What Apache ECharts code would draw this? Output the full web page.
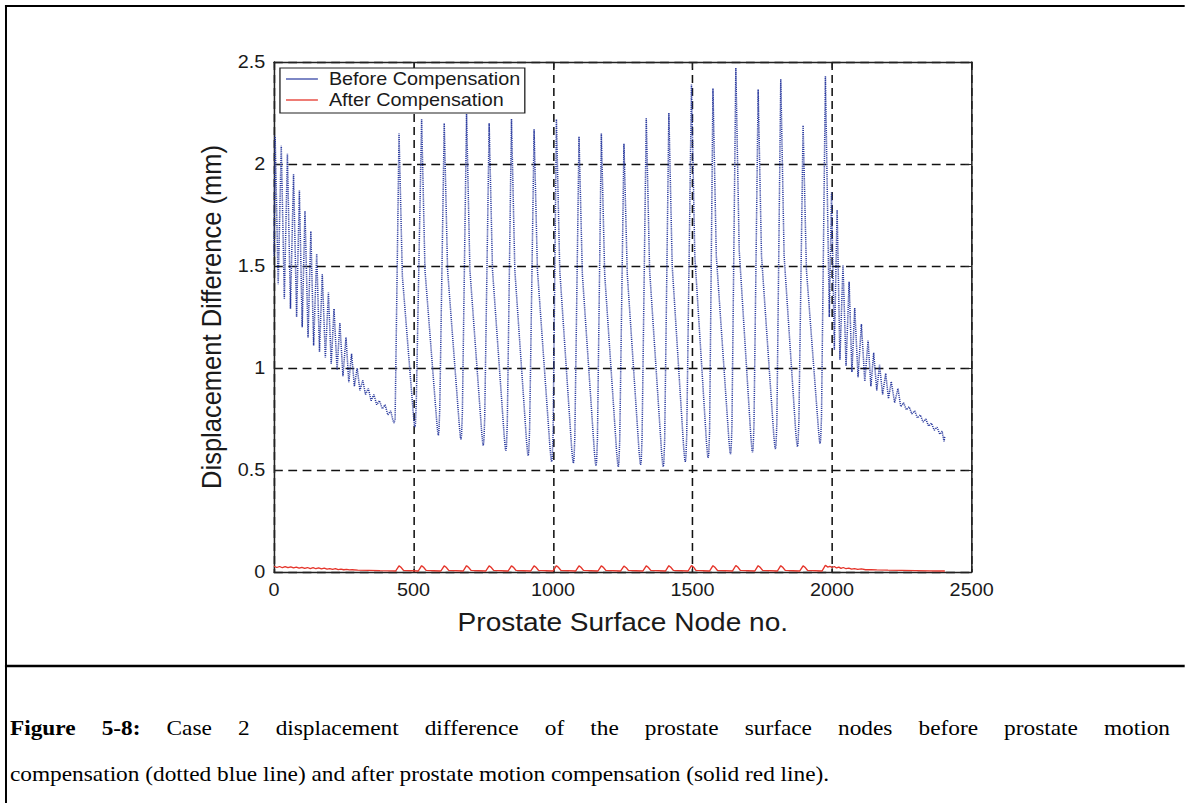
<!DOCTYPE html>
<html>
<head>
<meta charset="utf-8">
<script src="https://cdn.jsdelivr.net/npm/echarts@6/dist/echarts.min.js"></script>
<style>
  html, body { margin: 0; padding: 0; background: #fff; overflow: hidden; }
  /* figure is laid out narrow and widened horizontally, like the printed page */
  #chart { width: 1077.27px; height: 803px; transform: scaleX(1.1); transform-origin: 0 0; }
</style>
</head>
<body>
<div id="chart"></div>
<script>
// ---- data: [surface node no., displacement difference (mm)] ----
// before compensation, nodes 0-430 (fast decaying oscillation)
const beforeLeft = [
  [0,1.55],[4,2.14],[15,1.41],[26,2.09],[37,1.34],[48,2.05],[59,1.29],[70,1.95],[81,1.25],
  [91,1.87],[101,1.20],[111,1.77],[122,1.15],[132,1.67],[142,1.11],[153,1.56],[163,1.08],
  [173,1.46],[184,1.05],[195,1.37],[205,1.02],[215,1.29],[226,0.99],[236,1.22],[247,0.96],
  [258,1.15],[268,0.93],[278,1.07],[288,0.91],[298,1.00],[308,0.89],[318,0.94],[328,0.87],
  [338,0.90],[348,0.84],[358,0.87],[368,0.82],[378,0.84],[388,0.80],[398,0.82],[408,0.77],
  [418,0.79],[426,0.745],[430,0.73],[434,0.75]
];
// before compensation, nodes 434-1976 (large periodic waves)
const beforeWaves = [
  [448,2.15],[460,1.45],[499,0.78],[503,0.72],[505,0.71],[507,0.73],[510,0.84],
  [529,2.22],[541,1.48],[583,0.74],[587,0.68],[589,0.67],[591,0.69],[594,0.80],
  [610,2.20],[622,1.48],[664,0.72],[668,0.66],[670,0.65],[672,0.67],[675,0.78],
  [690,2.245],[702,1.48],[744,0.69],[748,0.63],[750,0.62],[752,0.64],[755,0.75],
  [771,2.20],[783,1.48],[825,0.665],[829,0.605],[831,0.595],[833,0.615],[836,0.73],
  [851,2.22],[863,1.48],[905,0.64],[909,0.58],[911,0.57],[913,0.59],[916,0.70],
  [932,2.17],[944,1.48],[989,0.61],[993,0.55],[995,0.54],[997,0.56],[1000,0.67],
  [1012,2.22],[1024,1.48],[1067,0.60],[1071,0.543],[1073,0.533],[1075,0.553],[1078,0.66],
  [1093,2.135],[1105,1.46],[1148,0.59],[1152,0.53],[1154,0.52],[1156,0.54],[1159,0.65],
  [1173,2.15],[1185,1.46],[1228,0.585],[1232,0.526],[1234,0.516],[1236,0.536],[1239,0.65],
  [1254,2.10],[1266,1.46],[1308,0.595],[1312,0.535],[1314,0.525],[1316,0.545],[1319,0.66],
  [1334,2.225],[1346,1.48],[1389,0.585],[1393,0.526],[1395,0.516],[1397,0.536],[1400,0.65],
  [1415,2.25],[1427,1.50],[1468,0.61],[1472,0.55],[1474,0.54],[1476,0.56],[1479,0.67],
  [1496,2.39],[1508,1.55],[1550,0.63],[1554,0.57],[1556,0.56],[1558,0.58],[1561,0.69],
  [1573,2.37],[1585,1.55],[1630,0.65],[1634,0.588],[1636,0.578],[1638,0.598],[1641,0.71],
  [1655,2.47],[1667,1.58],[1709,0.66],[1713,0.597],[1715,0.587],[1717,0.607],[1720,0.72],
  [1735,2.365],[1747,1.55],[1791,0.67],[1795,0.613],[1797,0.603],[1799,0.623],[1802,0.73],
  [1816,2.415],[1828,1.55],[1870,0.68],[1874,0.624],[1876,0.614],[1878,0.634],[1881,0.74],
  [1896,2.19],[1908,1.48],[1951,0.70],[1955,0.64],[1957,0.63],[1959,0.65],[1962,0.76],
  [1976,2.43]
];
// before compensation, nodes 1976-2404 (decaying tail)
const beforeRight = [
  [1990,1.25],[1998,1.86],[2008,1.09],[2018,1.775],[2028,1.04],[2039,1.505],[2050,1.01],
  [2061,1.423],[2071,0.98],[2081,1.294],[2093,0.955],[2105,1.216],[2117,0.935],[2129,1.134],
  [2139,0.91],[2149,1.075],[2160,0.89],[2170,1.015],[2181,0.87],[2192,0.974],[2202,0.85],
  [2212,0.933],[2224,0.83],[2236,0.90],[2246,0.81],[2256,0.83],[2266,0.795],[2276,0.81],
  [2286,0.775],[2296,0.79],[2306,0.755],[2316,0.77],[2326,0.735],[2336,0.75],[2346,0.715],
  [2356,0.73],[2366,0.695],[2376,0.71],[2386,0.675],[2394,0.69],[2401,0.64],[2404,0.665]
];
// after compensation
const afterLeft = [
  [0,0.028],[10,0.022],[20,0.027],[30,0.021],[40,0.026],[50,0.021],[60,0.025],[70,0.020],
  [80,0.024],[90,0.019],[100,0.023],[110,0.018],[120,0.022],[130,0.017],[140,0.021],[150,0.016],
  [160,0.020],[170,0.015],[180,0.019],[190,0.014],[200,0.017],[210,0.013],[220,0.016],[230,0.012],
  [240,0.014],[250,0.011],[260,0.013],[270,0.010],[280,0.011],[300,0.009],[340,0.008],[380,0.007],
  [425,0.006]
];
const afterWaves = [
  [436,0.005],[448,0.030],[456,0.022],[464,0.008],[517,0.005],[529,0.031],[537,0.022],[545,0.008],
  [598,0.005],[610,0.030],[618,0.022],[626,0.008],[678,0.005],[690,0.031],[698,0.022],[706,0.008],
  [759,0.005],[771,0.030],[779,0.022],[787,0.008],[839,0.005],[851,0.030],[859,0.022],[867,0.008],
  [920,0.005],[932,0.030],[940,0.022],[948,0.008],[1000,0.005],[1012,0.031],[1020,0.022],[1028,0.008],
  [1081,0.005],[1093,0.030],[1101,0.022],[1109,0.008],[1161,0.005],[1173,0.030],[1181,0.022],[1189,0.008],
  [1242,0.005],[1254,0.029],[1262,0.021],[1270,0.008],[1322,0.005],[1334,0.030],[1342,0.022],[1350,0.008],
  [1403,0.005],[1415,0.031],[1423,0.022],[1431,0.008],[1484,0.005],[1496,0.032],[1504,0.023],[1512,0.008],
  [1561,0.005],[1573,0.031],[1581,0.022],[1589,0.008],[1643,0.005],[1655,0.032],[1663,0.023],[1671,0.008],
  [1723,0.005],[1735,0.031],[1743,0.022],[1751,0.008],[1804,0.005],[1816,0.031],[1824,0.022],[1832,0.008],
  [1884,0.005],[1896,0.030],[1904,0.022],[1912,0.008],[1964,0.005],[1976,0.033],[1984,0.024],[1992,0.028]
];
const afterRight = [
  [2000,0.022],[2008,0.027],[2016,0.020],[2024,0.024],[2032,0.018],[2040,0.022],[2050,0.016],
  [2060,0.019],[2070,0.014],[2080,0.017],[2092,0.013],[2105,0.015],[2120,0.011],[2140,0.012],
  [2160,0.010],[2200,0.009],[2250,0.008],[2300,0.007],[2350,0.006],[2404,0.005]
];

const seriesNames = ['Before Compensation', 'After Compensation'];
const xTitle = 'Prostate Surface Node no.';
const yTitle = 'Displacement Difference (mm)';
const captionBoldWords = ['Figure', '5-8:'];
const captionLine1Words = ['Case', '2', 'displacement', 'difference', 'of', 'the', 'prostate',
  'surface', 'nodes', 'before', 'prostate', 'motion'];
const captionLine2 = 'compensation (dotted blue line) and after prostate motion compensation (solid red line).';

const SANS = '"Liberation Sans", Arial, Helvetica, sans-serif';
const SERIF = '"Liberation Serif", "Times New Roman", serif';
const INK = '#1a1a1a';
const BLUE = '#2a3a9e';
const RED = '#e5352b';
const CAPTION_SIZE = 21.2;
const CAPTION_X = 9.1;
const CAPTION_WIDTH = 1054.5;   // first caption line is justified to this width

// word spacing for the justified first caption line
const measure = document.createElement('canvas').getContext('2d');
function textWidth(str, weight) {
  measure.font = weight + ' ' + CAPTION_SIZE + 'px ' + SERIF;
  return measure.measureText(str).width;
}
const wordsWidth = captionBoldWords.reduce((s, w) => s + textWidth(w, 'bold'), 0)
  + captionLine1Words.reduce((s, w) => s + textWidth(w, 'normal'), 0);
const gapCount = captionBoldWords.length + captionLine1Words.length - 1;
const gapWidth = (CAPTION_WIDTH - wordsWidth) / gapCount;
const line1Rich = captionBoldWords.map(w => '{b|' + w + '}').join('{s| }') + '{s| }'
  + captionLine1Words.join('{s| }');

const chart = echarts.init(document.getElementById('chart'), null, { renderer: 'svg' });

const dashed = { type: [8, 5], color: '#111', width: 1.4 };
const boxLine = { show: true, onZero: false, lineStyle: { color: '#222', width: 1.4 } };
const tick = { show: true, inside: true, length: 6, lineStyle: { color: '#222' } };
const plainNumber = v => String(v);

chart.setOption({
  animation: false,
  backgroundColor: '#fff',
  grid: { left: 249.1, right: 193.7, top: 62, bottom: 231, containLabel: false },
  xAxis: [
    {
      type: 'value', min: 0, max: 2500, interval: 500, position: 'bottom',
      name: xTitle, nameLocation: 'middle', nameGap: 37,
      nameTextStyle: { fontSize: 25.5, fontFamily: SANS, color: INK },
      axisLine: boxLine, axisTick: tick,
      axisLabel: { fontSize: 18, fontFamily: SANS, color: INK, margin: 9, formatter: plainNumber },
      splitLine: { show: true, lineStyle: dashed }
    },
    {
      type: 'value', min: 0, max: 2500, interval: 500, position: 'top',
      axisLine: boxLine, axisTick: tick,
      axisLabel: { show: false }, splitLine: { show: false }
    }
  ],
  yAxis: [
    {
      type: 'value', min: 0, max: 2.5, interval: 0.5, position: 'left',
      name: yTitle, nameLocation: 'middle', nameGap: 44,
      nameTextStyle: { fontSize: 25.5, fontFamily: SANS, color: INK },
      axisLine: boxLine, axisTick: tick,
      axisLabel: { fontSize: 18, fontFamily: SANS, color: INK, margin: 8, formatter: plainNumber },
      splitLine: { show: true, lineStyle: dashed }
    },
    {
      type: 'value', min: 0, max: 2.5, interval: 0.5, position: 'right',
      axisLine: boxLine, axisTick: tick,
      axisLabel: { show: false }, splitLine: { show: false }
    }
  ],
  legend: {
    data: seriesNames,
    orient: 'vertical', left: 254.5, top: 68,
    padding: [2, 4, 4, 5.5],
    icon: 'rect',
    itemWidth: 29, itemHeight: 1.3, itemGap: 3,
    borderColor: '#222', borderWidth: 1.2, backgroundColor: '#fff',
    textStyle: { fontSize: 18, lineHeight: 18, fontFamily: SANS, color: INK, padding: [0, 0, 0, 5] }
  },
  series: [
    {
      name: seriesNames[0], type: 'line', xAxisIndex: 0, yAxisIndex: 0,
      data: beforeLeft.concat(beforeWaves, beforeRight),
      showSymbol: false, symbol: 'none', silent: true,
      lineStyle: { color: BLUE, width: 1.4, type: [1.1, 1] },
      itemStyle: { color: '#3646a6' }
    },
    {
      name: seriesNames[1], type: 'line', xAxisIndex: 0, yAxisIndex: 0,
      data: afterLeft.concat(afterWaves, afterRight),
      showSymbol: false, symbol: 'none', silent: true,
      lineStyle: { color: RED, width: 1.3 },
      itemStyle: { color: RED }
    }
  ],
  graphic: [
    // frame around figure and caption
    { type: 'line', shape: { x1: 4.5, y1: 6, x2: 1077.27, y2: 6 }, style: { stroke: '#000', lineWidth: 2 } },
    { type: 'line', shape: { x1: 5.45, y1: 5, x2: 5.45, y2: 803 }, style: { stroke: '#000', lineWidth: 1.8 } },
    { type: 'line', shape: { x1: 4.5, y1: 666, x2: 1077.27, y2: 666 }, style: { stroke: '#000', lineWidth: 2.4 } },
    {
      type: 'text', x: CAPTION_X, y: 728,
      style: {
        text: line1Rich,
        fontFamily: SERIF, fontSize: CAPTION_SIZE, fill: '#000', verticalAlign: 'middle',
        rich: {
          b: { fontFamily: SERIF, fontSize: CAPTION_SIZE, fontWeight: 'bold', fill: '#000' },
          s: { fontFamily: SERIF, fontSize: CAPTION_SIZE, width: gapWidth }
        }
      }
    },
    {
      type: 'text', x: CAPTION_X, y: 774,
      style: { text: captionLine2, fontFamily: SERIF, fontSize: CAPTION_SIZE, fill: '#000', verticalAlign: 'middle' }
    }
  ]
});
</script>
</body>
</html>
